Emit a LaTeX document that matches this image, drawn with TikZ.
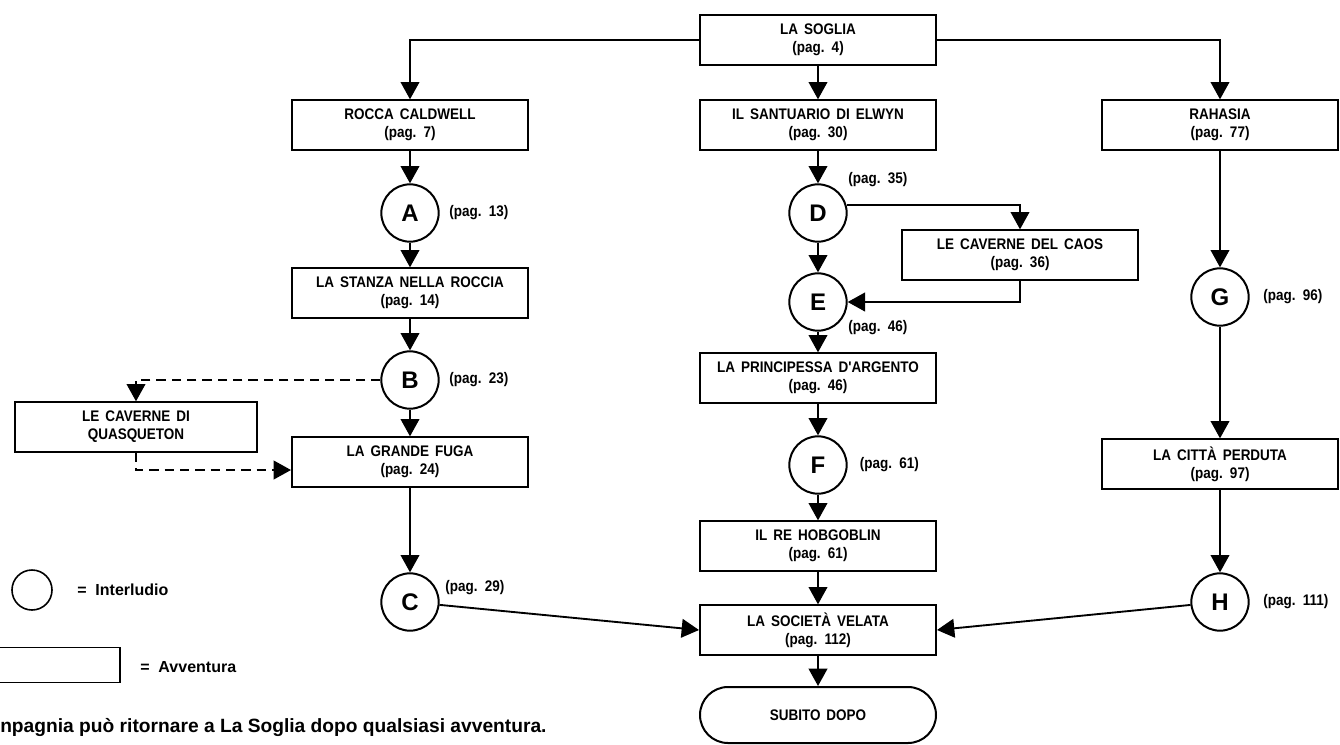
\documentclass[tikz,border=0pt]{standalone}
\usepackage{fontspec}
\setmainfont{Liberation Sans}
\newfontfamily\condensed{Liberation Sans}[FakeStretch=0.88, WordSpace=1.6]
\usetikzlibrary{positioning, shapes.misc, arrows.meta}

\tikzset{
  avv/.style={draw, rectangle, line width=1.5pt, minimum width=177pt, minimum height=37pt,
    inner sep=0pt, align=center, font=\condensed\bfseries\fontsize{11.5}{13.5}\selectfont},
  inter/.style={draw, circle, line width=1.5pt, minimum size=43pt, inner sep=0pt,
    font=\bfseries\fontsize{18}{18}\selectfont},
  fine/.style={avv, rounded rectangle, minimum height=42pt},
  pag/.style={inner sep=0pt, font=\condensed\bfseries\fontsize{11.5}{13.5}\selectfont},
  legenda/.style={inner sep=0pt, font=\bfseries\fontsize{12}{14}\selectfont},
  link/.style={->, line width=1.4pt},
  opt/.style={link, dash pattern=on 7pt off 4.5pt},
}

\begin{document}
\begin{tikzpicture}[x=0.75pt, y=-0.75pt, >={Triangle[width=14pt,length=13pt]}]
\useasboundingbox (0,0) rectangle (1340,744);

\node[avv] (soglia) at (818,40) {LA SOGLIA\\(pag. 4)};
\node[avv] (rocca) at (410,125) {ROCCA CALDWELL\\(pag. 7)};
\node[avv] (santuario) at (818,125) {IL SANTUARIO DI ELWYN\\(pag. 30)};
\node[avv] (rahasia) at (1220,125) {RAHASIA\\(pag. 77)};

\node[inter] (A) at (410,213) {A};
\node[pag, right = 7pt of A] (pA) {(pag. 13)};
\node[avv] (stanza) at (410,293) {LA STANZA NELLA ROCCIA\\(pag. 14)};
\node[inter] (B) at (410,380) {B};
\node[pag, right = 7pt of B] (pB) {(pag. 23)};
\node[avv, minimum width=182pt] (quas) at (136,427) {LE CAVERNE DI\\QUASQUETON};
\node[avv] (fuga) at (410,462) {LA GRANDE FUGA\\(pag. 24)};
\node[inter] (C) at (410,602) {C};
\node[pag, anchor=west] (pC) at (445,588) {(pag. 29)};

\node[inter] (D) at (818,213) {D};
\node[pag, anchor=west] (pD) at (848,180) {(pag. 35)};
\node[avv] (caos) at (1020,255) {LE CAVERNE DEL CAOS\\(pag. 36)};
\node[inter] (E) at (818,302) {E};
\node[pag, anchor=west] (pE) at (848,328) {(pag. 46)};
\node[avv] (principessa) at (818,378) {LA PRINCIPESSA D'ARGENTO\\(pag. 46)};
\node[inter] (F) at (818,465) {F};
\node[pag, right = 9pt of F] (pF) {(pag. 61)};
\node[avv] (hobgoblin) at (818,546) {IL RE HOBGOBLIN\\(pag. 61)};
\node[avv] (velata) at (818,630) {LA SOCIETÀ VELATA\\(pag. 112)};
\node[fine] (dopo) at (818,715) {SUBITO DOPO};

\node[inter] (G) at (1220,297) {G};
\node[pag, right = 10pt of G] (pG) {(pag. 96)};
\node[avv] (citta) at (1220,464) {LA CITTÀ PERDUTA\\(pag. 97)};
\node[inter] (H) at (1220,602) {H};
\node[pag, right = 10pt of H] (pH) {(pag. 111)};

\node[draw, circle, line width=1.2pt, minimum size=30pt] (legInter) at (32,590) {};
\node[legenda, anchor=west] (txtInter) at (77,590) {=\ \ Interludio};
\node[draw, rectangle, line width=1.2pt, minimum width=120pt, minimum height=26pt] (legAvv) at (40,665) {};
\node[legenda, anchor=west] (txtAvv) at (140,667) {=\ \ Avventura};
\node[inner sep=0pt, anchor=west, font=\bfseries\fontsize{14.4}{16}\selectfont] (nota) at (0,727)
  {npagnia può ritornare a La Soglia dopo qualsiasi avventura.};

\draw[link] (soglia.west) -| (rocca.north);
\draw[link] (soglia.east) -| (rahasia.north);
\path[link] (soglia) edge (santuario);

\path[link] (rocca) edge (A);
\path[link] (A) edge (stanza);
\path[link] (stanza) edge (B);
\path[link] (B) edge (fuga);
\draw[opt] (B.west) -| (quas.north);
\draw[opt] (quas.south) |- ([yshift=-6pt]fuga.west);
\path[link] (fuga) edge (C);
\path[link] (C) edge (velata.west);

\path[link] (santuario) edge (D);
\draw[link] (D.15) -| (caos.north);
\path[link] (D) edge (E);
\draw[link] (caos.south) |- (E.east);
\path[link] (E) edge (principessa);
\path[link] (principessa) edge (F);
\path[link] (F) edge (hobgoblin);
\path[link] (hobgoblin) edge (velata);
\path[link] (velata) edge (dopo);

\path[link] (rahasia) edge (G);
\path[link] (G) edge (citta);
\path[link] (citta) edge (H);
\path[link] (H) edge (velata.east);
\end{tikzpicture}
\end{document}
